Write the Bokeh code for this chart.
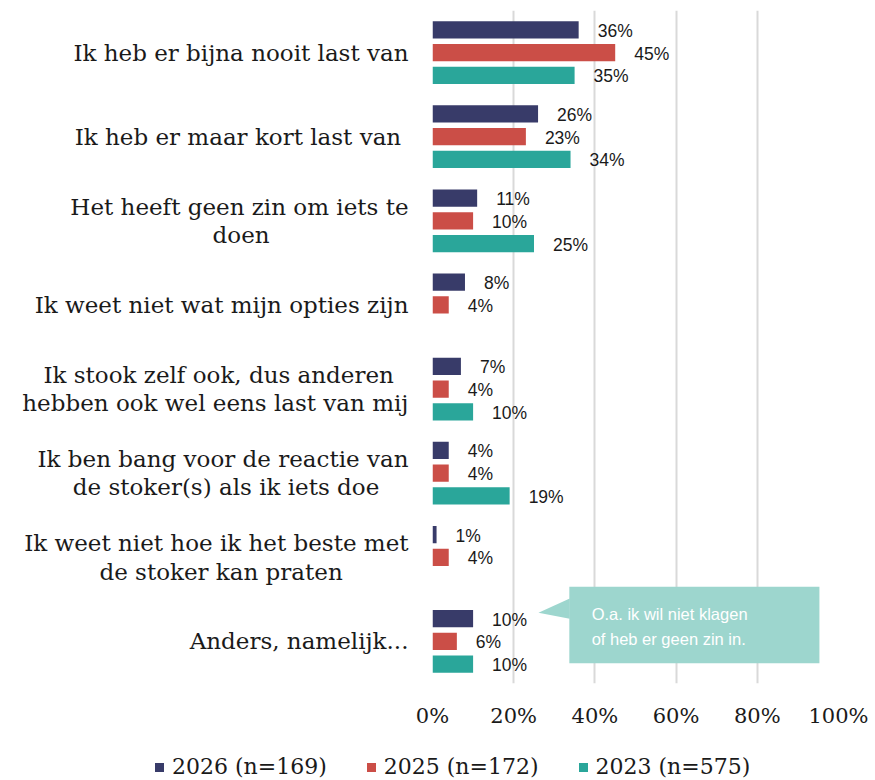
from bokeh.plotting import figure
from bokeh.layouts import column
from bokeh.models import ColumnDataSource, Range1d, FixedTicker, Div
from bokeh.embed import file_html
from bokeh.resources import INLINE
from bokeh.core.properties import value

categories = [
    "Ik heb er bijna nooit last van",
    "Ik heb er maar kort last van ",
    "Het heeft geen zin om iets te\ndoen",
    "Ik weet niet wat mijn opties zijn",
    "Ik stook zelf ook, dus anderen\nhebben ook wel eens last van mij",
    "Ik ben bang voor de reactie van\nde stoker(s) als ik iets doe",
    "Ik weet niet hoe ik het beste met\nde stoker kan praten",
    "Anders, namelijk...",
]
series_names = ["2026 (n=169)", "2025 (n=172)", "2023 (n=575)"]
v2026 = [36, 26, 11, 8, 7, 4, 1, 10]
v2025 = [45, 23, 10, 4, 4, 4, 4, 6]
v2023 = [35, 34, 25, None, 10, 19, None, 10]
colors = ["#383B69", "#CB4E47", "#2AA69A"]
x_ticks = [0, 20, 40, 60, 80, 100]
callout_text = ["O.a. ik wil niet klagen", "of heb er geen zin in."]

SERIF = "DejaVu Serif"
SANS = "Liberation Sans"

# layout helper: trailing no-break spaces so that the lines of a
# right-aligned two-line label look centred on each other
line_pads = {2: (0, 19), 4: (2, 0), 5: (0, 4), 6: (0, 9)}
NBSP = "\u00a0"


def centred(idx, text):
    pads = line_pads.get(idx)
    if not pads:
        return text
    lines = text.split("\n")
    return "\n".join(l + NBSP * n for l, n in zip(lines, pads))


p = figure(frame_width=406, frame_height=673, output_backend="svg", toolbar_location=None,
           x_range=Range1d(0, 100), y_range=Range1d(8, 0),
           min_border_left=432, min_border_right=30, min_border_top=10, min_border_bottom=42)
p.outline_line_color = None
p.background_fill_color = "white"
p.border_fill_color = "white"

offsets = [-0.27, 0.0, 0.27]
bar_h = 0.205
for vals, off, col in zip([v2026, v2025, v2023], offsets, colors):
    ys, xs, labels = [], [], []
    for i, v in enumerate(vals):
        if v is None:
            continue
        ys.append(i + 0.5 + off)
        xs.append(v)
        labels.append(f"{v}%")
    src = ColumnDataSource(dict(y=ys, right=xs, label=labels))
    p.hbar(y="y", left=0, right="right", height=bar_h, source=src,
           fill_color=col, line_color=None)
    p.text(x="right", y="y", text="label", source=src, x_offset=19, y_offset=1,
           text_font=value(SANS), text_font_size="17.5px", text_color="#1a1a1a",
           text_align="left", text_baseline="middle")

p.xaxis.ticker = FixedTicker(ticks=x_ticks)
p.xaxis.major_label_overrides = {t: f"{t}%" for t in x_ticks}
p.xaxis.axis_line_color = None
p.xaxis.major_tick_line_color = None
p.xaxis.minor_tick_line_color = None
p.xaxis.major_label_text_font = SERIF
p.xaxis.major_label_text_font_size = "21px"
p.xaxis.major_label_text_color = "#1a1a1a"
p.xaxis.major_label_standoff = 14

p.yaxis.ticker = FixedTicker(ticks=[i + 0.5 for i in range(len(categories))])
p.yaxis.major_label_overrides = {i + 0.5: centred(i, c) for i, c in enumerate(categories)}
p.yaxis.axis_line_color = None
p.yaxis.major_tick_line_color = None
p.yaxis.minor_tick_line_color = None
p.yaxis.major_label_text_font = SERIF
p.yaxis.major_label_text_font_size = "23px"
p.yaxis.major_label_text_line_height = 1.1
p.yaxis.major_label_text_color = "#1a1a1a"
p.yaxis.major_label_standoff = 18

p.xgrid.grid_line_color = "#D9D9D9"
p.xgrid.grid_line_width = 2
p.ygrid.grid_line_color = None

# callout annotation for "Anders, namelijk..."
p.quad(left=33.7, right=95.3, top=6.85, bottom=7.76, fill_color="#9DD6CE", line_color=None)
p.patch(x=[26.1, 33.8, 33.8], y=[7.16, 6.99, 7.23], fill_color="#9DD6CE", line_color=None)
for k, t in enumerate(callout_text):
    p.text(x=[39.2], y=[7.17 + 0.3 * k], text=[t], text_font=value(SANS),
           text_font_size="16.5px", text_color="white", text_baseline="middle")

# legend strip below the chart
item_html = "".join(
    f'<span style="display:inline-flex;align-items:center;margin-right:40px;">'
    f'<span style="display:inline-block;width:9px;height:9px;background:{c};'
    f'margin-right:8px;"></span>{n}</span>'
    for c, n in zip(colors, series_names)
)
legend_div = Div(
    text=(f'<div style="padding-left:155px;padding-top:24px;font-family:\'{SERIF}\';'
          f'font-size:22px;line-height:26px;color:#1a1a1a;white-space:nowrap;'
          f'display:flex;align-items:center;">{item_html}</div>'),
    width=868, height=52, margin=0,
)

layout = column(p, legend_div, spacing=0)
open("out.html", "w").write(file_html(layout, INLINE))
